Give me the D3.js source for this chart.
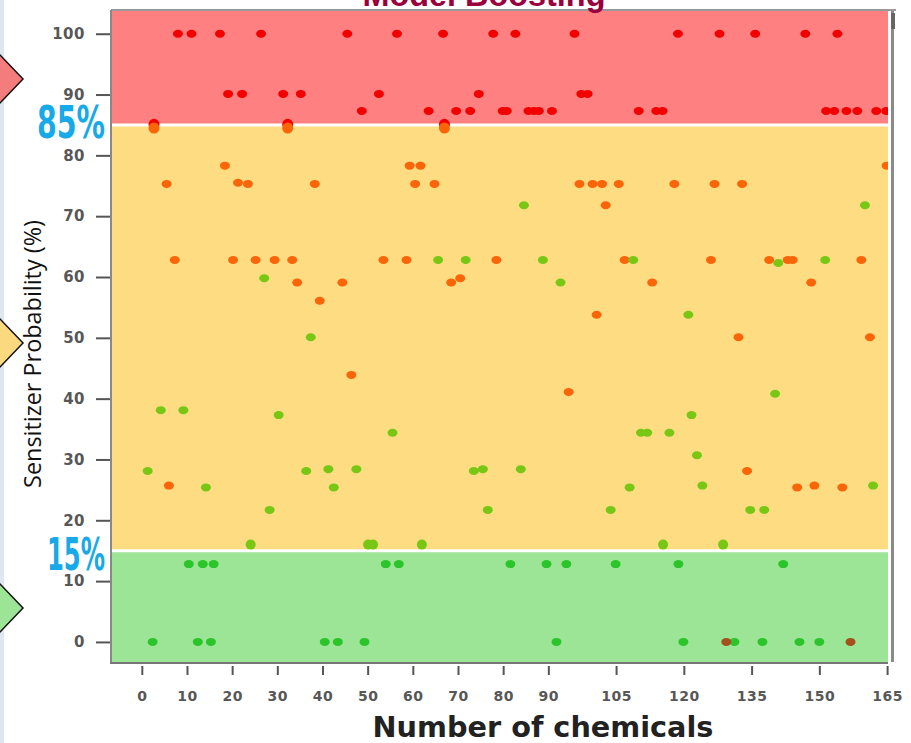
<!DOCTYPE html>
<html><head><meta charset="utf-8">
<script src="https://cdn.jsdelivr.net/npm/d3@7"></script>
<style>html,body{margin:0;padding:0;background:#fff;overflow:hidden}</style>
</head><body>
<svg id="c" width="911" height="743"></svg>
<script>
// ---------- data ----------
const title = "Model Boosting";
const xLabel = "Number of chemicals";
const yLabel = "Sensitizer Probability (%)";
const xTicks = [0,10,20,30,40,50,60,70,80,90,105,120,135,150,165];
const yTicks = [0,10,20,30,40,50,60,70,80,90,100];
const thresholds = [15, 85];
const thresholdLabels = ["15%", "85%"];

// red (high probability) points
const redX = [8,11,17.3,26.4,45.5,56.5,66.7,77.8,82.7,95.8,118.7,127.9,135.8,146.9,154,
  19.1,22.2,31.3,35.2,52.5,74.6,97.3,98.7,
  48.7,63.5,69.6,72.7,79.9,80.8,85.6,86.8,87.9,90.8,110,113.9,115.3,151.5,153.3,156,158.4,162.6,164.8,
  2.7,32.3,67,166.5,166.5];
const redY = [100,100,100,100,100,100,100,100,100,100,100,100,100,100,100,
  90.1,90.1,90.1,90.1,90.1,90.1,90.1,90.1,
  87.3,87.3,87.3,87.3,87.3,87.3,87.3,87.3,87.3,87.3,87.3,87.3,87.3,87.3,87.3,87.3,87.3,87.3,87.3,
  85.1,85.1,85.1,78.3,62.8];

// orange points
const orangeX = [2.7,32.3,67,
  18.4,59.3,61.7,164.9,
  5.5,21.3,23.5,38.3,60.5,64.8,96.9,99.8,101.9,105.6,117.9,126.8,132.9,
  102.7,
  7.3,20.2,25.2,29.4,33.3,53.5,58.6,78.5,106.9,126,138.9,143,144.1,159.3,
  34.4,44.4,68.5,70.5,113,148.2,
  39.4,100.7,132.1,161.2,
  46.4,94.5,
  6,134,145.1,148.9,155.1];
const orangeY = [84.5,84.5,84.5,
  78.3,78.3,78.3,78.3,
  75.3,75.5,75.3,75.3,75.3,75.3,75.3,75.3,75.3,75.3,75.3,75.3,75.3,
  71.8,
  62.8,62.8,62.8,62.8,62.8,62.8,62.8,62.8,62.8,62.8,62.8,62.8,62.8,62.8,
  59.1,59.1,59.1,59.8,59.1,59.1,
  56.1,53.8,50.1,50.1,
  43.9,41.1,
  25.7,28.1,25.4,25.7,25.4];

// yellow-green points (medium band)
const limeX = [27.1,37.4,84.6,160.1,
  65.6,71.7,88.8,108.8,151.3,140.9,
  92.7,121,
  4.2,9.2,30.3,140.2,121.7,
  55.5,110.5,111.9,116.8,
  122.9,
  1.3,36.4,41.3,47.5,73.5,75.5,83.9,
  14.2,42.5,108,124.1,161.9,
  28.3,76.6,103.8,134.7,137.8,
  24.1,50.1,51.2,62,115.4,128.7];
const limeY = [59.8,50.1,71.8,71.8,
  62.8,62.8,62.8,62.8,62.8,62.3,
  59.1,53.8,
  38.1,38.1,37.3,40.8,37.3,
  34.4,34.4,34.4,34.4,
  30.7,
  28.1,28.1,28.4,28.4,28.1,28.4,28.4,
  25.4,25.4,25.4,25.7,25.7,
  21.7,21.7,21.7,21.7,21.7,
  16,16,16,16,16,16];

// green points (low band)
const greenX = [10.4,13.5,15.9,54,56.9,81.6,89.6,94,104.9,118.8,142,
  2.4,12.4,15.3,40.5,43.4,49.3,91.8,119.9,131.2,137.4,145.6,150];
const greenY = [12.8,12.8,12.8,12.8,12.8,12.8,12.8,12.8,12.8,12.8,12.8,
  0,0,0,0,0,0,0,0,0,0,0,0];

// brown points
const brownX = [129.4,156.9];
const brownY = [0,0];

// ---------- drawing ----------
const svg = d3.select("#c");
const L = 112, R = 888, T = 11, B = 662;
const x = d3.scaleLinear().domain([-6.6,165.2]).range([L,R]);
const y = d3.scaleLinear().domain([-3.3,103.9]).range([B,T-1]);

// left strip
svg.append("rect").attr("x",0).attr("y",0).attr("width",4).attr("height",743).attr("fill","#dde7ef");

// bands
const bandLo = [y.domain()[0], thresholds[0], thresholds[1]];
const bandHi = [thresholds[0], thresholds[1], y.domain()[1]];
const bandColors = ["#9de596", "#fedc82", "#ff8080"];
svg.append("g").selectAll("rect").data(bandColors).join("rect")
  .attr("x", L).attr("width", R-L)
  .attr("y", (d,i)=>y(bandHi[i])).attr("height",(d,i)=>y(bandLo[i])-y(bandHi[i]))
  .attr("fill", d=>d);
svg.append("g").selectAll("line").data(thresholds).join("line")
  .attr("x1",L).attr("x2",R).attr("y1",d=>y(d)).attr("y2",d=>y(d))
  .attr("stroke","#fff").attr("stroke-width",3);

// frame
svg.append("line").attr("x1",L-1).attr("x2",R+8).attr("y1",T-1).attr("y2",T-1).attr("stroke","#999").attr("stroke-width",2);
svg.append("rect").attr("x",891).attr("y",T).attr("width",3).attr("height",B-T).attr("fill","#8a8a8a");
svg.append("rect").attr("x",891).attr("y",T+2).attr("width",4).attr("height",16).attr("fill","#666");
svg.append("line").attr("x1",L-1).attr("x2",L-1).attr("y1",T-1).attr("y2",B+1).attr("stroke","#888").attr("stroke-width",2);
svg.append("line").attr("x1",L-2).attr("x2",R).attr("y1",B+1).attr("y2",B+1).attr("stroke","#777").attr("stroke-width",2);

// clip
svg.append("clipPath").attr("id","pc").append("rect").attr("x",L).attr("y",T).attr("width",R-L).attr("height",B-T);
const pts = svg.append("g").attr("clip-path","url(#pc)");
function drawPts(xs, ys, color, rx, ry){
  pts.append("g").selectAll("ellipse").data(xs.map((d,i)=>[d,ys[i]])).join("ellipse")
    .attr("cx",d=>x(d[0])).attr("cy",d=>y(d[1]))
    .attr("rx",d=> (d[1]>84 && d[1]<86) ? 5.5 : rx)
    .attr("ry",d=> (d[1]>84 && d[1]<86) ? 5.5 : (d[1]===16 ? 5 : ry))
    .attr("fill",color);
}
drawPts(redX, redY, "#f20000", 5, 4);
drawPts(orangeX, orangeY, "#f96508", 5, 4);
drawPts(limeX, limeY, "#78c714", 5, 4);
drawPts(greenX, greenY, "#2bc52b", 5, 4);
drawPts(brownX, brownY, "#a3501c", 5, 4);

// y axis
const yAx = svg.append("g").attr("transform",`translate(${L-2},0)`)
  .call(d3.axisLeft(y).tickValues(yTicks).tickSize(14).tickPadding(11).tickFormat(d3.format("d")));
yAx.select(".domain").remove();
yAx.selectAll(".tick line").attr("stroke","#555").attr("stroke-width",2);
yAx.selectAll("text").attr("font-family","DejaVu Sans").attr("font-weight","bold").attr("font-size",15)
  .attr("fill","#575757").attr("letter-spacing","0.5px");

// x axis
const xAx = svg.append("g").attr("transform",`translate(0,${B+4})`)
  .call(d3.axisBottom(x).tickValues(xTicks).tickSize(9).tickPadding(16).tickFormat(d3.format("d")));
xAx.select(".domain").remove();
xAx.selectAll(".tick line").attr("stroke","#555").attr("stroke-width",2);
xAx.selectAll("text").attr("font-family","DejaVu Sans").attr("font-weight","bold").attr("font-size",14)
  .attr("fill","#575757").attr("letter-spacing","0.5px");

function fit(t, w){ const cw = t.node().getComputedTextLength(); const fs = +t.attr("font-size"); t.attr("font-size", fs*w/cw); }

// axis titles
const xt = svg.append("text").attr("x",543).attr("y",737).attr("text-anchor","middle")
  .attr("font-family","DejaVu Sans").attr("font-weight","bold").attr("font-size",24).attr("fill","#222").text(xLabel);
fit(xt, 341);
const yt = svg.append("text").attr("transform","translate(41,354) rotate(-90)").attr("text-anchor","middle")
  .attr("font-family","Open Sans").attr("font-size",22).attr("fill","#111").text(yLabel);
fit(yt, 268);

// title (cut at top)
const tt = svg.append("text").attr("x",484).attr("y",6).attr("text-anchor","middle")
  .attr("font-family","Liberation Sans").attr("font-weight","bold").attr("font-size",28).attr("fill","#99003d").text(title);
fit(tt, 243);

// threshold labels
const tlX = [47, 37], tlW = [58, 68], tlDy = [19, 13];
svg.append("g").selectAll("text").data(thresholdLabels).join("text")
  .attr("x",(d,i)=>tlX[i]).attr("y",(d,i)=>y(thresholds[i])+tlDy[i])
  .attr("font-family","Liberation Sans Narrow, DejaVu Sans Condensed, sans-serif").attr("font-weight","bold")
  .attr("font-size",44).attr("fill","#17a9e8")
  .attr("textLength",(d,i)=>tlW[i]).attr("lengthAdjust","spacingAndGlyphs").text(d=>d);

// arrows
const arrowY = [79, 343, 608];
const arrowColors = ["#f47c7c", "#fbd97e", "#9de596"];
svg.append("g").selectAll("path").data(arrowY).join("path")
  .attr("d", d=>`M-10,${d-24} L0,${d-24} L23,${d} L0,${d+24} L-10,${d+24} Z`)
  .attr("fill",(d,i)=>arrowColors[i]).attr("stroke","#111").attr("stroke-width",1.5);
</script>
</body></html>
